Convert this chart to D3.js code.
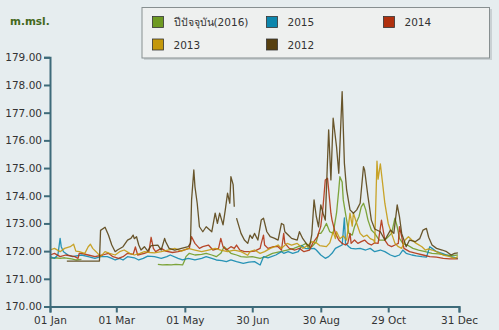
<!DOCTYPE html>
<html>
<head>
<meta charset="utf-8">
<script src="https://cdn.jsdelivr.net/npm/d3@7/dist/d3.min.js"></script>
<style>
  html, body { margin: 0; padding: 0; background: #e6edef; }
  svg { display: block; }
  text { font-family: "DejaVu Sans", sans-serif; }
</style>
</head>
<body>
<svg id="chart" width="499" height="330"></svg>
<script>
// Daily water level (m.msl.) by day of year, one series per year.
// Each entry: [dayOfYear (0 = 01 Jan), level]; null marks a gap in the record.
const years = ["ปีปัจจุบัน(2016)", "2015", "2014", "2013", "2012"];
const colors = ["#6e9a22", "#0c86ad", "#b0300e", "#c4980c", "#574010"];

const level2016 = [
  [0,171.74],[5,171.76],[9,171.74],[13,171.76],[19,171.72],[23,171.68],[28,171.70],[29,null],
  [96,171.52],[100,171.50],[104,171.51],[108,171.50],[112,171.52],[118,171.50],[120,171.68],[121,171.80],
  [124,171.92],[129,171.86],[135,171.88],[139,171.92],
  [144,171.86],[148,171.80],[152,171.92],[155,172.16],[158,172.04],[161,171.92],[166,171.86],[170,171.80],
  [175,171.78],[180,171.80],[187,171.74],[192,171.80],[198,171.92],[205,171.98],[211,172.04],[217,172.10],
  [221,172.16],[225,172.22],[228,172.28],[230,172.10],[233,172.16],[237,172.34],[239,172.64],[241,172.64],
  [243,172.76],[246,173.00],[249,172.70],[252,172.64],[255,173.37],[257,174.21],[258,174.69],[260,174.50],
  [261,173.85],[264,173.12],[266,172.64],[269,172.58],[271,172.88],[275,173.25],[277,173.60],[279,173.73],
  [281,173.49],[283,173.12],[286,172.76],[289,172.64],[293,172.40],[298,172.40],[301,172.52],[304,172.64],
  [307,173.19],[309,172.88],[311,172.46],[314,172.28],[318,172.22],[323,172.10],[328,172.04],[334,171.98],
  [340,171.92],[346,171.90],[352,171.86],[358,171.84],[363,171.86]
];

const level2015 = [
  [0,171.80],[4,171.74],[7,171.86],[9,172.46],[10,172.16],[12,171.98],[16,171.86],[20,171.80],
  [28,171.86],[34,171.80],[40,171.74],[45,171.80],[51,171.80],[55,171.74],[58,171.68],[62,171.74],
  [65,171.68],[69,171.80],[75,171.76],[79,171.68],[83,171.74],[87,171.82],[93,171.80],[99,171.74],
  [104,171.80],[107,171.86],[114,171.74],[118,171.68],[123,171.74],[129,171.68],[135,171.74],[139,171.80],
  [144,171.74],[148,171.68],[153,171.66],[157,171.62],[161,171.68],[166,171.62],[172,171.56],[177,171.60],
  [182,171.62],[187,171.50],[190,171.80],[194,171.76],[197,171.80],[201,171.86],[206,171.98],[208,171.92],
  [212,171.98],[216,171.92],[221,171.98],[224,172.20],[227,172.10],[231,172.08],[235,172.10],[237,172.04],
  [241,171.86],[245,171.74],[248,171.80],[251,171.92],[254,172.10],[257,172.16],[260,172.22],[262,173.20],
  [263,172.28],[266,172.16],[268,172.10],[272,172.08],[276,172.10],[281,172.04],[285,172.10],[289,171.98],
  [294,172.04],[298,171.98],[303,171.86],[307,171.80],[311,171.86],[314,172.04],[317,171.92],[322,171.86],
  [326,171.83],[331,171.80],[335,171.78],[338,172.16],[340,172.10],[344,171.98],[349,171.92],[353,171.86],
  [357,171.80],[363,171.74]
];

const level2014 = [
  [0,171.86],[4,171.92],[9,171.80],[14,171.86],[22,171.80],[25,171.74],[26,171.92],[28,171.92],
  [34,171.86],[40,171.80],[47,171.86],[52,171.92],[56,171.80],[61,171.74],[65,171.80],[69,171.92],
  [74,171.88],[76,172.15],[78,171.86],[84,171.92],[88,171.98],[90,172.50],[92,172.10],[94,171.98],
  [99,172.10],[103,172.00],[109,171.95],[114,171.98],[119,172.04],[124,172.10],[126,172.52],[129,172.28],
  [133,172.10],[136,172.16],[141,172.22],[145,172.04],[150,172.10],[152,172.46],[154,172.16],[157,172.04],
  [161,172.16],[164,172.10],[166,172.22],[169,172.04],[173,171.98],[178,171.98],[182,172.00],[187,172.10],
  [188,172.28],[190,172.58],[191,172.22],[194,172.10],[199,172.16],[203,172.16],[206,172.04],[208,172.64],
  [209,172.28],[213,172.10],[218,172.04],[222,172.10],[226,171.98],[231,172.04],[234,172.30],[238,172.52],
  [241,172.90],[243,173.60],[245,174.57],[247,174.63],[248,174.21],[250,173.37],[251,173.12],[254,172.64],
  [257,172.40],[260,172.28],[263,172.22],[265,172.28],[267,172.64],[268,172.28],[271,172.40],[274,172.28],
  [277,172.34],[280,172.40],[283,172.28],[286,172.22],[289,172.30],[292,172.28],[295,173.12],[296,172.88],
  [298,172.40],[301,172.22],[304,172.16],[307,172.22],[310,172.28],[311,172.88],[313,172.52],[315,172.10],
  [320,171.98],[326,171.92],[332,171.86],[338,171.80],[344,171.78],[350,171.74],[356,171.72],[363,171.72]
];

const level2013 = [
  [0,172.04],[4,172.10],[9,171.98],[13,172.10],[18,172.16],[21,172.25],[23,172.00],[26,171.98],
  [31,171.92],[34,172.16],[36,172.25],[38,172.10],[41,171.98],[45,171.80],[49,171.98],[53,171.92],
  [58,171.86],[62,171.98],[66,172.04],[71,171.92],[75,171.86],[80,171.92],[84,171.98],[89,171.95],
  [93,171.94],[99,171.98],[105,172.04],[111,172.10],[117,172.00],[123,172.10],[129,172.04],[135,171.98],
  [141,172.04],[147,172.10],[152,172.04],[158,171.98],[164,172.04],[170,171.98],[176,171.85],[178,171.98],
  [182,172.04],[187,171.92],[191,171.98],[196,172.10],[200,172.16],[203,172.22],[206,172.10],[211,172.28],
  [215,172.22],[220,172.28],[222,172.20],[225,172.10],[230,172.22],[233,172.34],[237,172.30],[240,172.20],
  [246,172.16],[249,172.30],[252,172.70],[254,172.45],[255,172.70],[258,172.45],[261,172.55],[264,172.40],
  [267,173.37],[269,172.90],[270,173.37],[273,173.00],[276,172.64],[279,172.52],[282,172.58],[285,172.45],
  [288,172.40],[289,172.30],[291,175.25],[292,174.60],[294,175.15],[296,174.45],[298,173.73],[301,173.00],
  [304,172.64],[307,172.28],[310,172.16],[313,172.10],[316,172.40],[319,172.52],[322,172.40],[326,172.28],
  [331,172.16],[334,172.04],[337,172.08],[340,172.04],[344,171.98],[350,171.86],[356,171.80],[360,171.74],
  [363,171.80]
];

const level2012 = [
  [15,171.64],[44,171.64],[45,172.75],[49,172.86],[52,172.58],[55,172.22],[58,171.98],[60,172.04],
  [65,172.16],[69,172.40],[72,172.46],[74,172.58],[75,172.45],[77,172.52],[79,172.22],[81,172.04],
  [84,172.16],[87,172.00],[90,172.20],[96,172.22],[99,172.04],[102,172.46],[103,172.34],[106,172.10],
  [111,172.04],[117,172.10],[123,172.16],[125,172.28],[126,173.85],[128,174.93],[129,174.33],[131,173.73],
  [133,172.88],[136,172.70],[139,172.88],[144,172.70],[147,173.37],[149,173.00],[151,173.37],[154,172.95],
  [156,173.49],[158,174.09],[160,173.73],[161,174.69],[163,174.40],[164,173.60],[165,null],[166,173.19],
  [170,172.64],[173,172.40],[176,172.28],[178,172.58],[180,172.46],[182,172.64],[185,172.40],[188,173.12],
  [190,173.19],[193,172.70],[196,172.52],[200,172.46],[203,172.40],[206,173.00],[208,172.95],[209,172.70],
  [212,172.58],[215,172.46],[220,172.40],[222,172.70],[225,172.45],[228,172.28],[231,172.16],[233,172.60],
  [235,173.85],[237,173.25],[239,172.88],[241,173.67],[243,173.37],[245,173.12],[248,176.38],[250,174.57],
  [252,176.80],[255,175.77],[257,174.81],[260,177.76],[262,175.17],[264,174.21],[267,173.49],[270,173.37],
  [273,173.49],[276,173.73],[279,175.05],[280,174.93],[283,173.97],[286,173.12],[289,172.80],[294,172.70],
  [298,172.40],[303,172.76],[306,172.64],[309,173.67],[311,173.25],[313,172.64],[317,172.16],[320,172.40],
  [325,172.34],[329,172.45],[332,172.76],[335,172.82],[337,172.50],[340,172.22],[344,172.10],[349,172.04],
  [353,171.98],[357,171.86],[360,171.92],[363,171.94]
];

const seriesLevels = [level2016, level2015, level2014, level2013, level2012];

// Axis ticks
const yTicks = [170, 171, 172, 173, 174, 175, 176, 177, 178, 179];
const xTickLabels = ["01 Jan", "01 Mar", "01 May", "30 Jun", "30 Aug", "29 Oct", "31 Dec"];
const unitLabel = "m.msl.";

const svg = d3.select("#chart");
const plot = { left: 50, right: 459, top: 57.3, bottom: 306.5 };

// Days are placed on a common calendar year so all series share one axis.
const baseYear = 2015;
const parseTick = d3.timeParse("%d %b %Y");
const dayDate = d => d3.timeDay.offset(new Date(baseYear, 0, 1), d);

const x = d3.scaleTime()
  .domain([new Date(baseYear, 0, 1), new Date(baseYear, 11, 31)])
  .range([plot.left, plot.right]);
const y = d3.scaleLinear()
  .domain([d3.min(yTicks), d3.max(yTicks)])
  .range([plot.bottom, plot.top]);

const axisColor = "#3e6b7a";

// Lines
const line = d3.line()
  .defined(d => d[1] !== null)
  .x(d => x(dayDate(d[0])))
  .y(d => y(d[1]));

svg.append("g")
  .selectAll("path")
  .data(seriesLevels)
  .join("path")
  .attr("fill", "none")
  .attr("stroke", (d, i) => colors[i])
  .attr("stroke-width", 1.3)
  .attr("stroke-opacity", 0.88)
  .attr("stroke-linejoin", "round")
  .attr("d", line);

// Y axis
const yAxis = svg.append("g")
  .attr("transform", `translate(${plot.left},0)`)
  .call(d3.axisLeft(y).tickValues(yTicks).tickFormat(d3.format(".2f")).tickSize(6).tickPadding(2));

// X axis
const xAxis = svg.append("g")
  .attr("transform", `translate(0,${plot.bottom})`)
  .call(d3.axisBottom(x)
    .tickValues(xTickLabels.map(t => parseTick(t + " " + baseYear)))
    .tickFormat(d3.timeFormat("%d %b"))
    .tickSize(6).tickPadding(4));

[yAxis, xAxis].forEach(g => {
  g.select(".domain").attr("stroke", axisColor).attr("stroke-width", 2);
  g.selectAll(".tick line").attr("stroke", axisColor).attr("stroke-width", 2);
  g.selectAll(".tick text").attr("fill", "#333").style("font-size", "10.5px").attr("font-family", "DejaVu Sans, sans-serif");
});

// Unit label
svg.append("text")
  .attr("x", 10).attr("y", 25)
  .attr("fill", "#44691c")
  .style("font-size", "10.5px").style("font-weight", "bold")
  .text(unitLabel);

// Legend
const legend = svg.append("g");
legend.append("rect")
  .attr("x", 144).attr("y", 9).attr("width", 348).attr("height", 51)
  .attr("fill", "#c9d0d3");
legend.append("rect")
  .attr("x", 142).attr("y", 7.5).attr("width", 347.5).attr("height", 50.5)
  .attr("fill", "#eef0ef").attr("stroke", "#878f90").attr("stroke-width", 1);

const colX = [152.5, 266.5, 383.5];
const rowY = [16.5, 39];
const items = legend.selectAll("g.item")
  .data(years)
  .join("g")
  .attr("class", "item")
  .attr("transform", (d, i) => `translate(${colX[i % 3]},${rowY[Math.floor(i / 3)]})`);
items.append("rect")
  .attr("width", 11).attr("height", 11)
  .attr("fill", (d, i) => colors[i])
  .attr("stroke", "#333").attr("stroke-width", 0.8);
items.append("text")
  .attr("x", 21).attr("y", 9.5)
  .attr("fill", "#333")
  .style("font-size", "10.5px")
  .style("font-family", "'DejaVu Sans', 'Noto Sans', sans-serif")
  .text(d => d);
</script>
</body>
</html>
